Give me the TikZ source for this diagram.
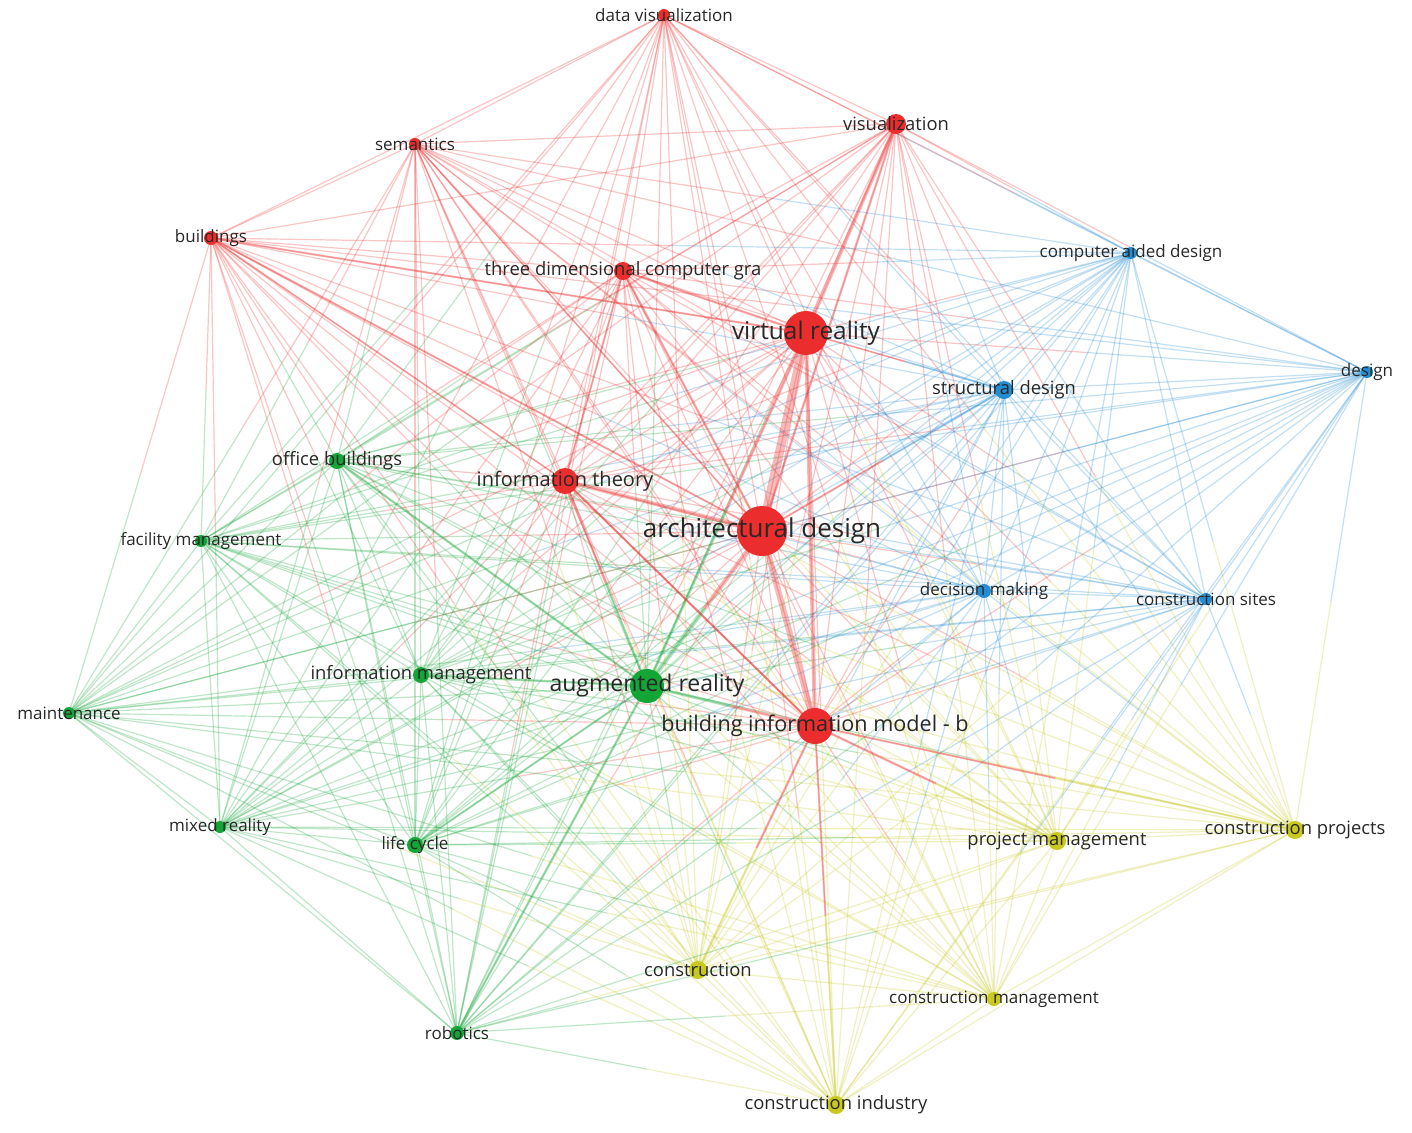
\documentclass[tikz,border=0pt]{standalone}
\usepackage{fontspec}
\setmainfont{Open Sans}
\usetikzlibrary{calc}
\pgfdeclarelayer{bg}
\pgfsetlayers{bg,main}
\definecolor{vred}{RGB}{236,45,45}
\definecolor{vgreen}{RGB}{20,165,55}
\definecolor{vblue}{RGB}{35,140,210}
\definecolor{vyellow}{RGB}{200,200,30}
\definecolor{labc}{RGB}{40,40,40}
\colorlet{c1}{vred}\colorlet{c2}{vred}\colorlet{c3}{vred}\colorlet{c4}{vgreen}
\colorlet{c5}{vred}\colorlet{c6}{vred}\colorlet{c7}{vred}\colorlet{c8}{vred}
\colorlet{c9}{vred}\colorlet{c10}{vred}\colorlet{c11}{vblue}\colorlet{c12}{vblue}
\colorlet{c13}{vblue}\colorlet{c14}{vblue}\colorlet{c15}{vblue}\colorlet{c16}{vgreen}
\colorlet{c17}{vgreen}\colorlet{c18}{vgreen}\colorlet{c19}{vgreen}\colorlet{c20}{vgreen}
\colorlet{c21}{vgreen}\colorlet{c22}{vgreen}\colorlet{c23}{vyellow}\colorlet{c24}{vyellow}
\colorlet{c25}{vyellow}\colorlet{c26}{vyellow}\colorlet{c27}{vyellow}
\tikzset{
  dot/.style={circle, inner sep=0pt, draw=none},
  edge/.style={line width=0.6pt, opacity=0.27},
  bigedge/.style={opacity=0.33},
  lab/.style={text=labc, inner sep=0pt, font=\fontsize{8.5}{10}\selectfont},
  labm/.style={lab, font=\fontsize{9.2}{11}\selectfont},
}
\begin{document}
\begin{tikzpicture}[x=0.5pt,y=-0.5pt]
\useasboundingbox (0,0) rectangle (1412,1132);
% nodes
\foreach \i/\x/\y/\r in {
 1/762/531/25, 2/806/333/22, 3/815/726/18, 4/647/686/17, 5/565/481/13,
 6/896/124/10, 7/623/271/9, 8/664/15/6, 9/415/144/6, 10/211/238/7,
 11/1131/253/6, 12/1367/372/6, 13/1004/390/9, 14/984/591/7, 15/1206/599/6,
 16/337/461/8, 17/201/541/6, 18/421/675/8, 19/69/713/6, 20/220/827/6,
 21/415/845/8, 22/457/1033/7, 23/1057/841/9, 24/1295/830/9, 25/698/970/9,
 26/994/999/7, 27/836/1105/9}
 {\node[dot, fill=c\i, minimum size=\r pt] (n\i) at (\x,\y) {};}
% edges
\begin{pgfonlayer}{bg}
\fill[white] (0,0) rectangle (1412,1132);
\foreach \i in {1,...,26}{
  \pgfmathtruncatemacro\s{\i+1}
  \foreach \j in {\s,...,27}{
    \draw[edge, c\i] (n\i.center) -- ($(n\i.center)!0.5!(n\j.center)$);
    \draw[edge, c\j] ($(n\i.center)!0.5!(n\j.center)$) -- (n\j.center);
  }}
\foreach \a/\b/\w in {1/2/4.5, 1/3/3, 2/3/2, 1/4/2.2, 2/4/1.5, 1/5/2, 2/6/1.8,
  1/6/1.2, 3/4/1.5, 4/5/1.2, 4/16/1.2, 4/18/1.2, 1/7/1.2, 2/7/1.2, 10/2/1,
  10/1/1, 3/23/1.2, 3/25/1.2, 3/27/1, 1/13/1, 4/22/1.2, 4/21/1, 5/3/1, 9/1/0.8,
  5/10/0.8, 2/13/0.8, 3/24/1, 3/5/1, 5/7/1}{
    \draw[bigedge, c\a, line width=\w pt] (n\a.center) -- ($(n\a.center)!0.5!(n\b.center)$);
    \draw[bigedge, c\b, line width=\w pt] ($(n\a.center)!0.5!(n\b.center)$) -- (n\b.center);
}
\end{pgfonlayer}
% labels
\node[lab, font=\fontsize{13}{15}\selectfont] at (n1) {architectural design};
\node[lab, font=\fontsize{12.2}{14}\selectfont] at (n2) {virtual reality};
\node[lab, font=\fontsize{10.8}{13}\selectfont] at (n3) {building information model - b};
\node[lab, font=\fontsize{11.5}{13}\selectfont] at (n4) {augmented reality};
\node[lab, font=\fontsize{10}{12}\selectfont] at (n5) {information theory};
\node[labm] at (n6) {visualization};
\node[labm] at (n7) {three dimensional computer gra};
\node[lab] at (n8) {data visualization};
\node[lab] at (n9) {semantics};
\node[lab] at (n10) {buildings};
\node[lab] at (n11) {computer aided design};
\node[lab] at (n12) {design};
\node[labm] at (n13) {structural design};
\node[lab] at (n14) {decision making};
\node[lab] at (n15) {construction sites};
\node[labm] at (n16) {office buildings};
\node[lab] at (n17) {facility management};
\node[labm] at (n18) {information management};
\node[lab] at (n19) {maintenance};
\node[lab] at (n20) {mixed reality};
\node[lab] at (n21) {life cycle};
\node[lab] at (n22) {robotics};
\node[labm] at (n23) {project management};
\node[labm] at (n24) {construction projects};
\node[labm] at (n25) {construction};
\node[lab] at (n26) {construction management};
\node[labm] at (n27) {construction industry};
\end{tikzpicture}
\end{document}
